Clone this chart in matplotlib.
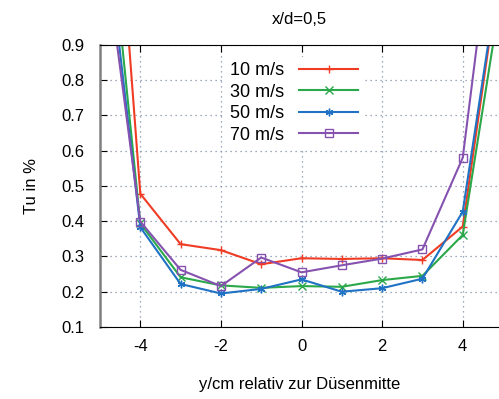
import matplotlib
matplotlib.use("Agg")
import matplotlib.pyplot as plt

plt.rcParams['font.family'] = ['Liberation Sans', 'DejaVu Sans']
plt.rcParams['axes.unicode_minus'] = False

x = [-5, -4, -3, -2, -1, 0, 1, 2, 3, 4, 5]
tu_10 = [2.0, 0.478, 0.335, 0.318, 0.278, 0.295, 0.293, 0.295, 0.290, 0.385, 1.18]
tu_30 = [1.52, 0.394, 0.241, 0.218, 0.211, 0.216, 0.214, 0.233, 0.245, 0.361, 1.08]
tu_50 = [1.37, 0.383, 0.222, 0.195, 0.208, 0.235, 0.200, 0.210, 0.237, 0.427, 1.18]
tu_70 = [1.27, 0.399, 0.262, 0.216, 0.297, 0.255, 0.275, 0.294, 0.320, 0.580, 1.49]
labels = ['10 m/s', '30 m/s', '50 m/s', '70 m/s']
xticks = [-4, -2, 0, 2, 4]
yticks = [0.1, 0.2, 0.3, 0.4, 0.5, 0.6, 0.7, 0.8, 0.9]

fig = plt.figure(figsize=(4.99, 3.99), dpi=100)
ax = fig.add_axes([0.2004, 0.1805, 0.7996, 0.7068])

series = [tu_10, tu_30, tu_50, tu_70]
colors = ['#f03c24', '#2aa84a', '#1f72c4', '#8652b0']
markers = ['+', 'x', (6, 2, 0), 's']
for y, c, m, lab in zip(series, colors, markers, labels):
    kw = dict(markerfacecolor='none') if m == 's' else {}
    ax.plot(x, y, color=c, marker=m, markersize=5.5, linewidth=1.5,
            markeredgewidth=1.0, label=lab, **kw)

ax.set_xlim(-5, 4.9)
ax.set_ylim(0.1, 0.9)
ax.set_xticks(xticks)
ax.set_yticks(yticks)
ax.set_yticklabels([f"{v:.1f}" for v in yticks])
ax.grid(True, linestyle=(0, (1, 3)), color='#8090a8', linewidth=0.9)
ax.tick_params(direction='in', top=True, right=False, labelsize=12, length=5)
ax.tick_params(axis='y', pad=11)
ax.tick_params(axis='x', pad=9)
ax.spines['right'].set_visible(False)
ax.spines['left'].set_color('#808080')
ax.spines['left'].set_linewidth(1.8)

ax.set_title('x/d=0,5', fontsize=12, pad=15)
ax.set_ylabel('Tu in %', fontsize=12, labelpad=16)
ax.set_xlabel('y/cm relativ zur Düsenmitte', fontsize=12, labelpad=16)

leg = ax.legend(loc='upper left', bbox_to_anchor=(0.29, 0.99), markerfirst=False,
                frameon=True, fontsize=13, handlelength=3.3, labelspacing=0.25,
                borderpad=0.3, handletextpad=0.8)
leg.get_frame().set_edgecolor('none')
leg.get_frame().set_facecolor('white')
leg.get_frame().set_alpha(1.0)
for t in leg.get_texts():
    t.set_ha('right')

fig.savefig('out.png', dpi=100)
